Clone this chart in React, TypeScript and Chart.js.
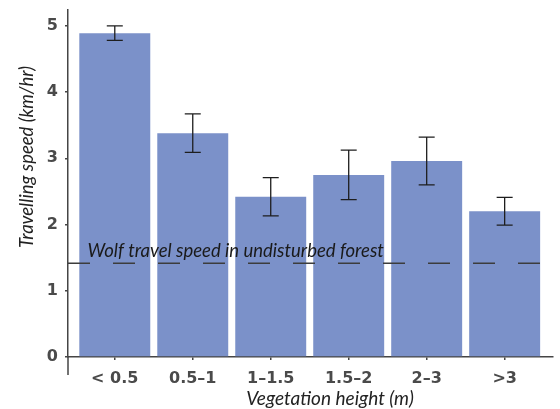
import { useEffect, useRef } from "react";
import { Chart, registerables } from "chart.js";

Chart.register(...registerables);

const categories = ["< 0.5", "0.5–1", "1–1.5", "1.5–2", "2–3", ">3"];
const speeds = [4.89, 3.38, 2.42, 2.75, 2.96, 2.2];
const errors = [0.11, 0.29, 0.29, 0.375, 0.36, 0.21];
const forestSpeed = 1.415;
const yTicks = [0, 1, 2, 3, 4, 5];
const annotation = "Wolf travel speed in undisturbed forest";
const xTitle = "Vegetation height (m)";
const yTitle = "Travelling speed (km/hr)";

const AXIS = "#454545";
const TICKTXT = "#4a4a4a";
const BAR = "#7b91c9";
const FONT = "Lato";
const TICKFONT = "'DejaVu Sans'";

export default function App() {
  const ref = useRef<HTMLCanvasElement>(null);

  useEffect(() => {
    const canvas = ref.current!;
    const extras = {
      id: "extras",
      afterDatasetsDraw(chart: any) {
        const { ctx, scales, chartArea } = chart;
        const xs = scales.x;
        const ys = scales.y;
        ctx.save();
        // error bars
        ctx.strokeStyle = "#1e1e1e";
        ctx.lineWidth = 1.3;
        speeds.forEach((v, i) => {
          const x = xs.getPixelForValue(i);
          const yt = ys.getPixelForValue(v + errors[i]);
          const yb = ys.getPixelForValue(v - errors[i]);
          ctx.beginPath();
          ctx.moveTo(x, yt);
          ctx.lineTo(x, yb);
          ctx.moveTo(x - 8, yt);
          ctx.lineTo(x + 8, yt);
          ctx.moveTo(x - 8, yb);
          ctx.lineTo(x + 8, yb);
          ctx.stroke();
        });
        // annotation
        ctx.fillStyle = "#1a1a1a";
        ctx.font = `italic 18.5px ${FONT}`;
        ctx.textAlign = "left";
        ctx.textBaseline = "alphabetic";
        ctx.fillText(annotation, xs.getPixelForValue(-0.35), ys.getPixelForValue(forestSpeed) - 6);
        // y axis extension below zero
        ctx.strokeStyle = AXIS;
        ctx.lineWidth = 1.5;
        ctx.beginPath();
        ctx.moveTo(chartArea.left, chartArea.bottom);
        ctx.lineTo(chartArea.left, chartArea.bottom + 18);
        ctx.stroke();
        ctx.restore();
      },
      afterDraw(chart: any) {
        const { ctx } = chart;
        ctx.save();
        ctx.fillStyle = "#222";
        ctx.font = `italic 19px ${FONT}`;
        ctx.textAlign = "center";
        ctx.textBaseline = "alphabetic";
        ctx.fillText(xTitle, 330, 405);
        ctx.font = `italic 18.5px ${FONT}`;
        ctx.translate(33, 157);
        ctx.rotate(-Math.PI / 2);
        ctx.fillText(yTitle, 0, 0);
        ctx.restore();
      },
    };

    const chart = new Chart(canvas, {
      type: "bar",
      data: {
        datasets: [
          {
            type: "line",
            data: [
              { x: -0.6, y: forestSpeed },
              { x: 5.62, y: forestSpeed },
            ],
            borderColor: "#3c3c3c",
            borderWidth: 1.4,
            borderDash: [22, 23],
            pointRadius: 0,
            order: 0,
          } as any,
          {
            type: "bar",
            data: speeds.map((v, i) => ({ x: i, y: v })),
            backgroundColor: BAR,
            barPercentage: 0.91,
            categoryPercentage: 1,
            order: 1,
          } as any,
        ],
      },
      options: {
        animation: false,
        responsive: true,
        maintainAspectRatio: false,
        layout: { padding: { top: 10, right: 7, left: 0, bottom: 0 } },
        plugins: { legend: { display: false }, tooltip: { enabled: false } },
        scales: {
          x: {
            type: "linear",
            offset: false,
            min: -0.6,
            max: 5.62,
            afterBuildTicks: (s: any) => {
              s.ticks = categories.map((_, i) => ({ value: i }));
            },
            afterFit: (s: any) => {
              s.height = 52;
              s.paddingLeft = 0;
              s.paddingRight = 0;
            },
            grid: { offset: false, drawOnChartArea: false, drawTicks: true, tickLength: 3, color: AXIS, lineWidth: 1.5 },
            border: { color: AXIS, width: 1.5 },
            ticks: {
              autoSkip: false,
              maxRotation: 0,
              padding: 9,
              color: TICKTXT,
              font: { family: TICKFONT, weight: "bold", size: 16 },
              callback: (v: any) => categories[v as number] ?? "",
            },
          },
          y: {
            min: 0,
            max: 5.24,
            afterBuildTicks: (s: any) => {
              s.ticks = yTicks.map((v) => ({ value: v }));
            },
            afterFit: (s: any) => {
              s.width = 68;
              s.paddingTop = 0;
              s.paddingBottom = 0;
            },
            grid: { drawOnChartArea: false, drawTicks: true, tickLength: 3, color: AXIS, lineWidth: 1.5 },
            border: { color: AXIS, width: 1.5 },
            ticks: {
              padding: 7,
              color: TICKTXT,
              font: { family: TICKFONT, weight: "bold", size: 16 },
            },
          },
        },
      },
      plugins: [extras],
    } as any);

    return () => chart.destroy();
  }, []);

  return (
    <div style={{ position: "fixed", left: 0, top: 0, width: 560, height: 409, background: "#fff" }}>
      <canvas ref={ref} />
    </div>
  );
}
